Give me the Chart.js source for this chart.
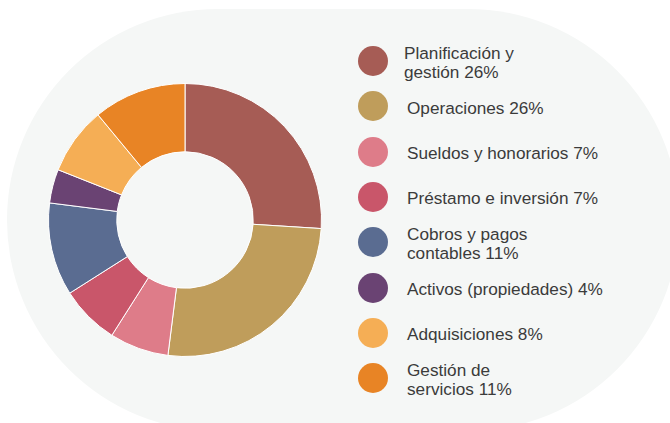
<!DOCTYPE html>
<html>
<head>
<meta charset="utf-8">
<script src="https://cdn.jsdelivr.net/npm/chart.js@4/dist/chart.umd.min.js"></script>
<style>
  html, body { margin: 0; padding: 0; background: #ffffff; }
  #wrap { position: relative; width: 670px; height: 423px; overflow: hidden; }
  #pill {
    position: absolute; left: 7px; top: 9px; width: 672px; height: 422px;
    border-radius: 211px; background: #f5f7f6;
  }
  #donut { position: absolute; left: 48px; top: 83px; }
  #legend {
    position: absolute; left: 358px; top: 0; margin: 0; padding: 0; list-style: none;
    font-family: "Liberation Sans", Arial, Helvetica, sans-serif; font-size: 17.2px;
    color: #3b3b3b; line-height: 19px;
  }
  #legend li { position: absolute; left: 0; display: flex; align-items: center; white-space: nowrap; }
  #legend .dot { width: 30px; height: 30px; border-radius: 50%; flex: none; }
  #legend .txt { margin-left: 19px; position: relative; top: 2px; }
</style>
</head>
<body>
<div id="wrap">
  <div id="pill"></div>
  <canvas id="donut" width="274" height="274"></canvas>
  <ul id="legend"></ul>
</div>
<script>
const labels = [
  ["Planificación y", "gestión"],
  ["Operaciones"],
  ["Sueldos y honorarios"],
  ["Préstamo e inversión"],
  ["Cobros y pagos", "contables"],
  ["Activos (propiedades)"],
  ["Adquisiciones"],
  ["Gestión de", "servicios"]
];
const shares = [26, 26, 7, 7, 11, 4, 8, 11];
const colors = ["#a65c55", "#bf9d5b", "#de7c89", "#c9566a", "#5a6c91", "#6a4373", "#f5ae55", "#e88425"];

// legend on the right, built from the same arrays
const legendEl = document.getElementById("legend");
const rowTop = 61, rowGap = 45.3;
labels.forEach((lab, i) => {
  const li = document.createElement("li");
  const dot = document.createElement("span");
  dot.className = "dot";
  dot.style.background = colors[i];
  const txt = document.createElement("span");
  txt.className = "txt";
  const lines = lab.slice();
  lines[lines.length - 1] += " " + shares[i] + "%";
  txt.innerHTML = lines.join("<br>");
  if (i === 0) txt.style.marginLeft = "16px";
  li.appendChild(dot);
  li.appendChild(txt);
  li.style.top = (rowTop + i * rowGap - 15) + "px";
  li.style.height = "30px";
  legendEl.appendChild(li);
});

const ctx = document.getElementById("donut").getContext("2d");
new Chart(ctx, {
  type: "doughnut",
  data: {
    labels: labels.map((l) => l.join(" ")),
    datasets: [
      {
        data: shares,
        backgroundColor: colors,
        borderColor: "#ffffff",
        borderWidth: 1,
      },
    ],
  },
  options: {
    responsive: false,
    animation: false,
    cutout: "50%",
    plugins: {
      legend: { display: false },
      tooltip: { enabled: false },
    },
  },
});
</script>
</body>
</html>
